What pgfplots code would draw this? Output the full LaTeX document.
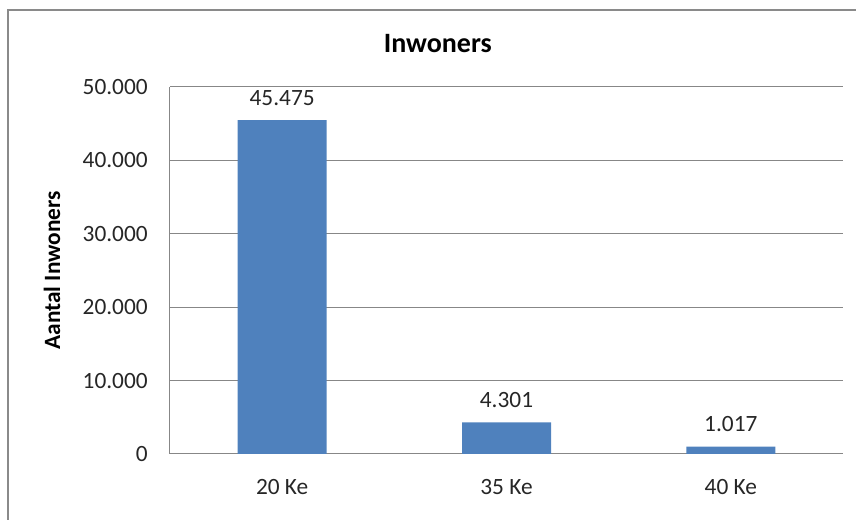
\documentclass[border=0pt]{standalone}
\usepackage{pgfplots}
\pgfplotsset{compat=1.18}
\usepackage{fontspec}
\setmainfont{Carlito}
\definecolor{barblue}{HTML}{4F81BD}
\definecolor{gridgray}{HTML}{878787}
\definecolor{framegray}{HTML}{8A8A8A}
\begin{document}
\begin{tikzpicture}
\begin{axis}[
    scale only axis,
    width=504.75pt,
    height=275.25pt,
    xmin=-0.5, xmax=2.5,
    ymin=0, ymax=50000,
    scaled y ticks=false,
    xtick={0,1,2},
    xticklabels={20 Ke,35 Ke,40 Ke},
    ytick={0,10000,20000,30000,40000,50000},
    yticklabels={0,10.000,20.000,30.000,40.000,50.000},
    major tick length=0pt,
    axis x line*=bottom,
    axis y line*=left,
    axis line style={gridgray, line width=0.75pt, -},
    ymajorgrids=true,
    grid style={gridgray, line width=0.75pt},
    tick label style={font=\fontsize{17.5}{21}\selectfont, text=black!85},
    yticklabel style={anchor=east, inner sep=0pt, xshift=-16.5pt},
    xticklabel style={anchor=base, inner sep=0pt, yshift=-30.5pt},
    title={Inwoners},
    title style={at={(0.398,1)}, anchor=base, yshift=19.5pt, font=\bfseries\fontsize{21}{25}\selectfont},
    ylabel={Aantal Inwoners},
    ylabel style={at={(axis description cs:-0.1753,0.5)}, anchor=center, rotate=0, font=\bfseries\fontsize{17.5}{21}\selectfont},
    point meta=explicit symbolic,
    nodes near coords,
    nodes near coords style={anchor=base, inner sep=0pt, yshift=11pt, font=\fontsize{17.5}{21}\selectfont, text=black!85},
]
\addplot[ybar, bar width=66.75pt, fill=barblue, draw=none]
    coordinates {
        (0, 45475) [45.475]
        (1, 4301)  [4.301]
        (2, 1017)  [1.017]
    };
\end{axis}
\draw[framegray, line width=1.5pt] (-121.5pt,-60pt) -- (-121.5pt,333pt) -- (530pt,333pt);
\pgfresetboundingbox
\useasboundingbox (-127.5pt,-49.5pt) rectangle (514.5pt,340.5pt);
\end{tikzpicture}
\end{document}
